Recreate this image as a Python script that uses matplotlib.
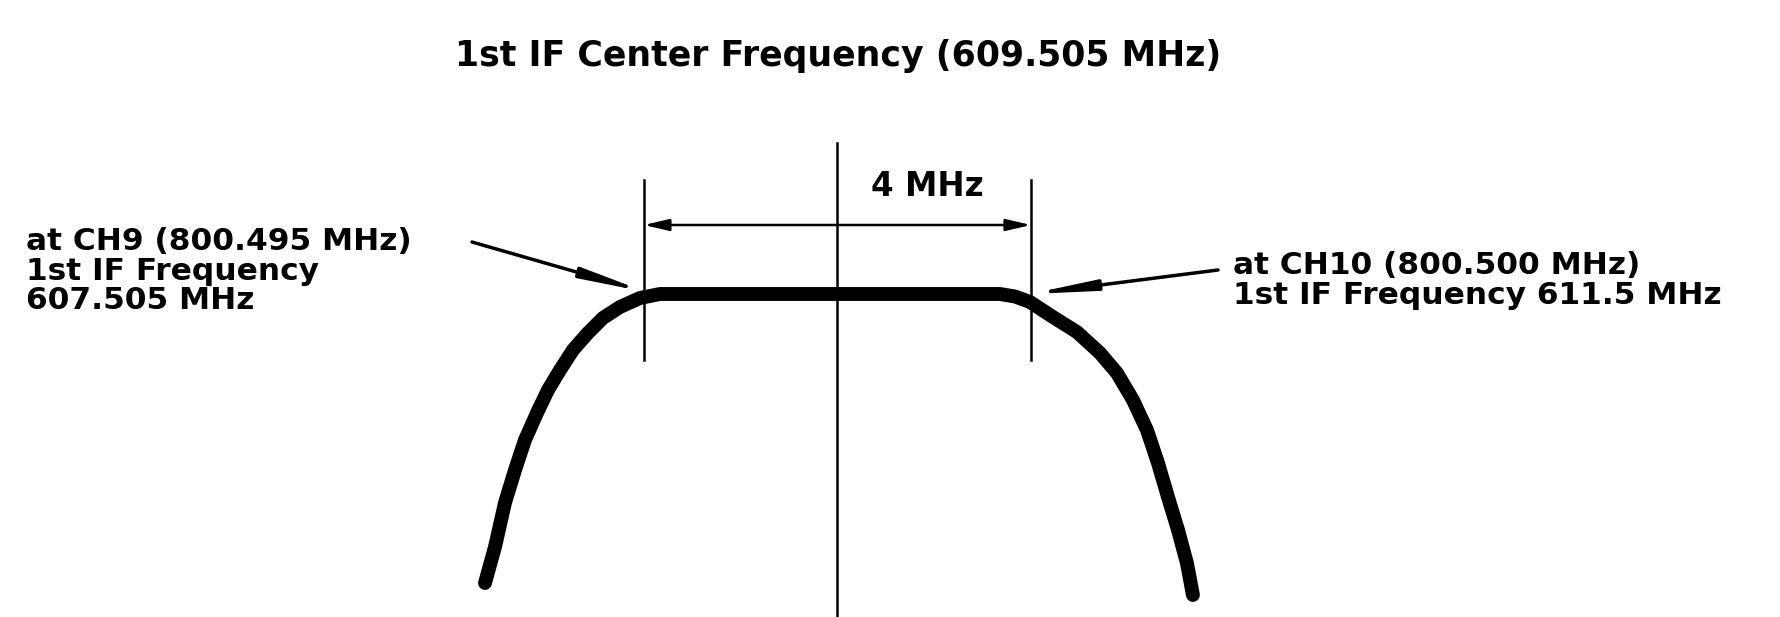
import matplotlib
matplotlib.use("Agg")
import matplotlib.pyplot as plt

# passband of the 1st IF filter (MHz) and the response (dB, arbitrary)
center_freq = 609.505
band_lo = 607.505
band_hi = 611.505
freq_mhz = [605.862, 605.965, 606.068, 606.172, 606.275, 606.399, 606.513, 606.637,
            606.771, 606.926, 607.081, 607.257, 607.464, 607.670, 609.505, 611.185,
            611.34, 611.495, 611.732, 611.980, 612.218, 612.394, 612.559, 612.704,
            612.818, 612.921, 613.025, 613.117, 613.179]
resp_db = [-28.9, -25.3, -20.9, -17.6, -14.6, -11.9, -9.6, -7.6,
           -5.6, -3.9, -2.4, -1.3, -0.4, 0.0, 0.0, 0.0,
           -0.25, -0.8, -2.3, -3.8, -5.9, -7.9, -10.6, -13.6,
           -16.9, -20.3, -23.6, -26.9, -30.1]

title_text = "1st IF Center Frequency (609.505 MHz)"
width_text = "4 MHz"
left_lines = ["at CH9 (800.495 MHz)", "1st IF Frequency", "607.505 MHz"]
right_lines = ["at CH10 (800.500 MHz)", "1st IF Frequency 611.5 MHz"]

W, H = 1780, 617
fig = plt.figure(figsize=(W / 100, H / 100), dpi=100, facecolor="white")
ax = fig.add_axes([0, 0, 1, 1])
ax.set_xlim(600.849, 619.247)
ax.set_ylim(-32.3, 29.4)
ax.axis("off")


def px(x, y):
    # pixel position -> axes fraction
    return x / W, 1 - y / H


font = dict(family="DejaVu Sans", fontweight="bold", color="black")

# filter response curve
ax.plot(freq_mhz, resp_db, color="black", lw=10, solid_capstyle="round",
        solid_joinstyle="round")

# centre line and band edge ticks
ax.plot([center_freq, center_freq], [15.1, -32.3], color="black", lw=1.8)
for f in (band_lo, band_hi):
    ax.plot([f, f], [11.4, -6.6], color="black", lw=1.8)

# 4 MHz dimension arrow
ax.annotate("", xy=(band_lo, 6.9), xytext=(band_hi, 6.9),
            arrowprops=dict(arrowstyle="<|-|>,head_length=1.5,head_width=0.35",
                            lw=1.8, color="black", shrinkA=0, shrinkB=0))

# text
ax.text(*px(838, 66), title_text, transform=ax.transAxes, ha="center",
        va="baseline", fontsize=25, **font)
ax.text(*px(927, 196), width_text, transform=ax.transAxes, ha="center",
        va="baseline", fontsize=23.5, **font)
for i, line in enumerate(left_lines):
    ax.text(*px(26, 250 + 29.5 * i), line, transform=ax.transAxes, ha="left",
            va="baseline", fontsize=22.5, **font)
for i, line in enumerate(right_lines):
    ax.text(*px(1233, 274 + 29.5 * i), line, transform=ax.transAxes, ha="left",
            va="baseline", fontsize=22.5, **font)

# leader arrows to the band edges
leader = dict(arrowstyle="-|>,head_length=1.8,head_width=0.15", lw=2.5,
              color="black", shrinkA=0, shrinkB=0, mutation_scale=20)
ax.annotate("", xy=px(646, 292), xytext=px(472, 242), xycoords="axes fraction",
            textcoords="axes fraction", arrowprops=leader)
ax.annotate("", xy=px(1030, 294), xytext=px(1218, 270), xycoords="axes fraction",
            textcoords="axes fraction", arrowprops=leader)

fig.savefig("out.png", dpi=100, facecolor="white")
